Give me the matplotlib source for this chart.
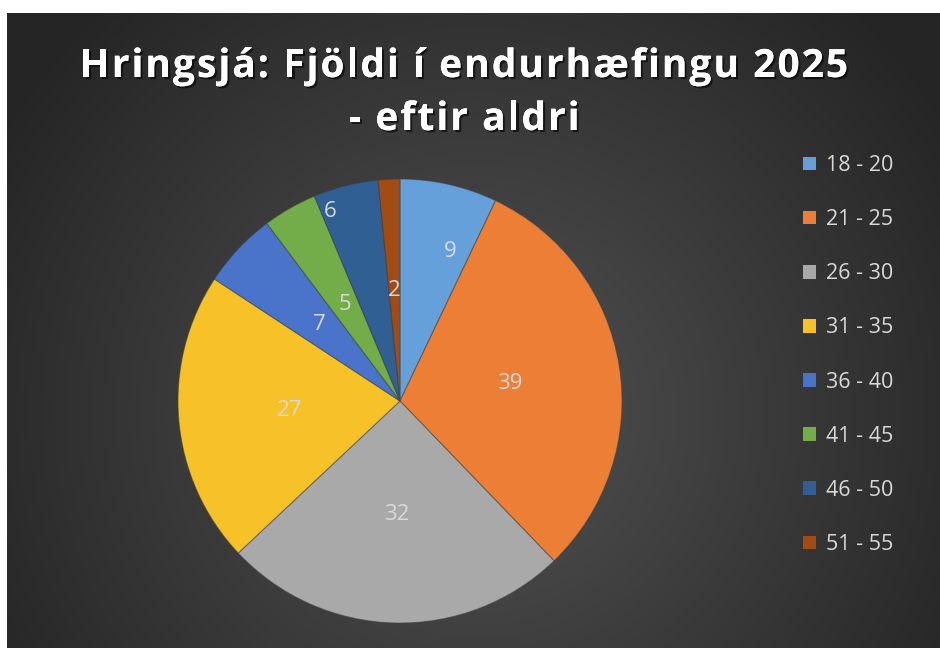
import numpy as np
import matplotlib
matplotlib.use("Agg")
import matplotlib.pyplot as plt
import matplotlib.patheffects as pe
from matplotlib.patches import Patch
from matplotlib.font_manager import FontProperties

# data
age_groups = ["18 - 20", "21 - 25", "26 - 30", "31 - 35", "36 - 40", "41 - 45", "46 - 50", "51 - 55"]
counts = [9, 39, 32, 27, 7, 5, 6, 2]
title_lines = ["Hringsjá: Fjöldi í endurhæfingu 2025", "- eftir aldri"]

colors = ["#66a0da", "#ec7f35", "#a9a9a9", "#f7c227", "#4a74c9", "#72ad4a", "#2f5f93", "#a04c14"]

W, H = 940, 648
fig = plt.figure(figsize=(W / 100, H / 100), dpi=100)
fig.patch.set_facecolor("white")

# dark radial gradient background (leaves a white strip at top and left)
left_px, top_px = 7, 13
bg = fig.add_axes([left_px / W, 0, 1 - left_px / W, 1 - top_px / H])
bg.set_axis_off()
yy, xx = np.mgrid[0:H - top_px, 0:W - left_px]
cx, cy = 470, 400
d = np.sqrt((xx - cx) ** 2 + (yy - cy) ** 2) / 560.0
d = np.clip(d, 0, 1)
shade = (0x52 - (0x52 - 0x25) * d) / 255.0
bg.imshow(np.dstack([shade, shade, shade]), aspect="auto", interpolation="bilinear")

# title, letter-spaced: lay out the characters one by one
renderer = fig.canvas.get_renderer()
tprop = FontProperties(family="Open Sans", weight="bold", size=28)
shadow = [pe.withSimplePatchShadow(offset=(1.5, -1.5), shadow_rgbFace="black", alpha=0.6), pe.Normal()]


def char_widths(s):
    return [renderer.get_text_width_height_descent(ch if ch != " " else "a a", tprop, ismath=False)[0]
            - (2 * renderer.get_text_width_height_descent("a", tprop, ismath=False)[0] if ch == " " else 0)
            for ch in s]


first_w = char_widths(title_lines[0])
gap = (768 - sum(first_w)) / (len(first_w) - 1)
for line, base in zip(title_lines, [77, 130]):
    ws = char_widths(line)
    total = sum(ws) + gap * (len(ws) - 1)
    x = 464 - total / 2
    for ch, w in zip(line, ws):
        if ch != " ":
            fig.text(x / W, 1 - base / H, ch, ha="left", va="baseline", color="white",
                     fontproperties=tprop, path_effects=shadow)
        x += w + gap

# pie
R = 222
pcx, pcy = 400, 401
ax = fig.add_axes([(pcx - R) / W, (H - pcy - R) / H, 2 * R / W, 2 * R / H])
wedges, _ = ax.pie(counts, colors=colors, startangle=90, counterclock=False, radius=1,
                   wedgeprops=dict(edgecolor=(0.25, 0.25, 0.25, 0.5), linewidth=0.8))
ax.set_xlim(-1, 1)
ax.set_ylim(-1, 1)
ax.set_axis_off()

# value labels (mostly at half radius, a couple pushed outwards like the original)
label_r = [0.71, 0.5, 0.51, 0.5, 0.5, 0.5, 0.91, 0.5]
label_da = [-6, 0, 0, 0, 0, 0, 6, 0]
for w, v, r, da in zip(wedges, counts, label_r, label_da):
    ang = np.deg2rad((w.theta1 + w.theta2) / 2 + da)
    ax.text(r * np.cos(ang), r * np.sin(ang), str(v), ha="center", va="center",
            color="#d9d9d9", fontsize=16, family="Open Sans")

# legend
handles = [Patch(facecolor=c, edgecolor="none") for c in colors]
fig.legend(handles, age_groups, loc="upper left", bbox_to_anchor=(803 / W, 1 - 155 / H),
           frameon=False, labelcolor="#d9d9d9",
           prop=dict(family="Open Sans", size=15.5),
           handlelength=0.6, handleheight=0.6, handletextpad=0.45,
           labelspacing=1.54, borderpad=0, borderaxespad=0)

fig.savefig("out.png", dpi=100, facecolor=fig.get_facecolor())
